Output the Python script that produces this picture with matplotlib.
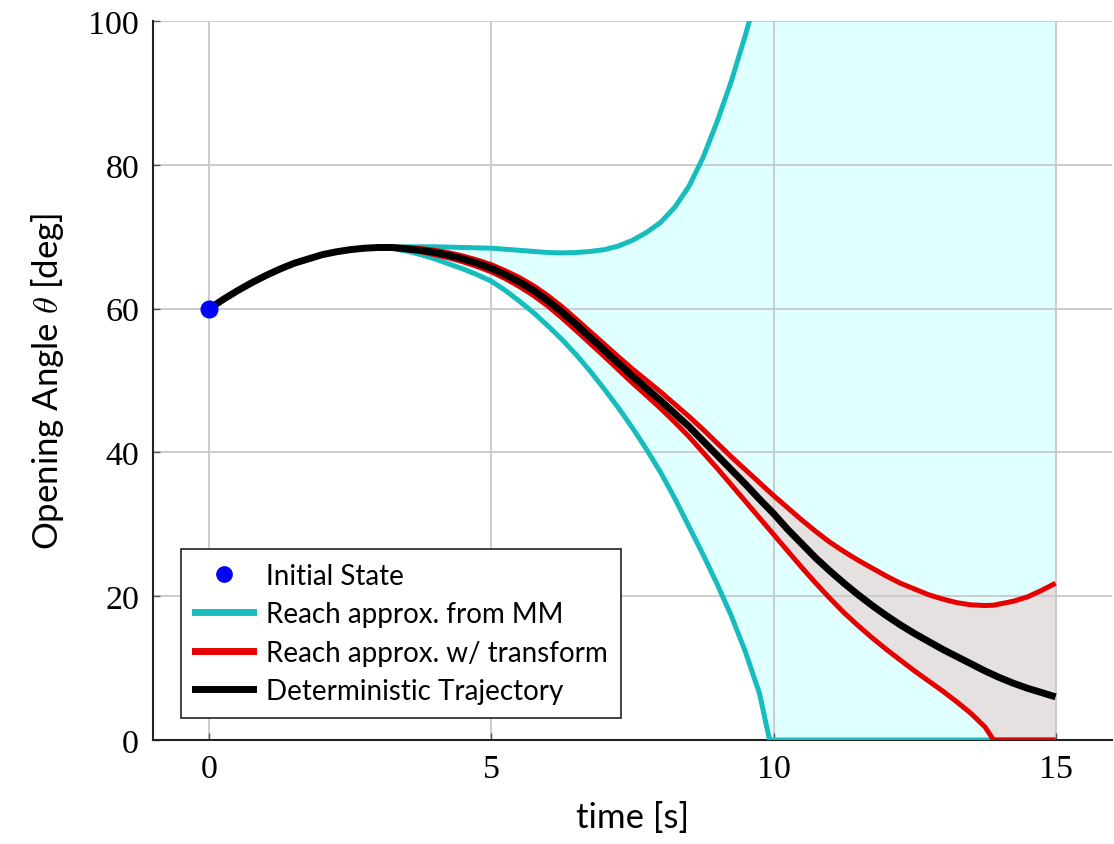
import matplotlib
matplotlib.use("Agg")
import matplotlib.pyplot as plt
from matplotlib.lines import Line2D

# ---------------- data ----------------
t_init = [0.0]
theta_init = [60.0]

# deterministic trajectory
t_det = [0, 0.25, 0.5, 0.75, 1, 1.25, 1.5, 1.75, 2, 2.25, 2.5, 2.75, 3, 3.25,
         3.5, 3.75, 4, 4.25, 4.5, 4.75, 5, 5.25, 5.5, 5.75, 6, 6.25, 6.5, 6.75,
         7, 7.25, 7.5, 7.75, 8, 8.25, 8.5, 8.75, 9, 9.25, 9.5, 9.75, 10, 10.25,
         10.5, 10.75, 11, 11.25, 11.5, 11.75, 12, 12.25, 12.5, 12.75, 13, 13.25,
         13.5, 13.75, 14, 14.25, 14.5, 14.75, 15]
theta_det = [60.0, 61.3, 62.5, 63.6, 64.6, 65.5, 66.3, 66.9, 67.5, 67.9, 68.2,
             68.4, 68.5, 68.5, 68.3, 68.1, 67.8, 67.4, 66.9, 66.3, 65.6, 64.7,
             63.7, 62.5, 61.1, 59.5, 57.8, 56.0, 54.2, 52.4, 50.6, 48.9, 47.2,
             45.4, 43.6, 41.6, 39.6, 37.6, 35.6, 33.5, 31.5, 29.3, 27.3, 25.3,
             23.5, 21.8, 20.2, 18.7, 17.3, 16.0, 14.8, 13.7, 12.6, 11.6, 10.6,
             9.6, 8.7, 7.9, 7.2, 6.6, 6.0]

# reachable-set approximation from moment matching (MM)
t_mm = [0, 0.25, 0.5, 0.75, 1, 1.25, 1.5, 1.75, 2, 2.25, 2.5, 2.75, 3, 3.25,
        3.5, 3.75, 4, 4.25, 4.5, 4.75, 5, 5.25, 5.5, 5.75, 6, 6.25, 6.5, 6.75,
        7, 7.25, 7.5, 7.75, 8, 8.25, 8.5, 8.75, 9, 9.25, 9.5, 9.75, 9.93, 10,
        11, 12, 13, 14, 15]
mm_upper = [60.0, 61.3, 62.5, 63.6, 64.6, 65.5, 66.3, 66.9, 67.5, 67.9, 68.2,
            68.4, 68.5, 68.55, 68.6, 68.6, 68.6, 68.55, 68.5, 68.45, 68.4,
            68.25, 68.1, 67.95, 67.8, 67.75, 67.8, 67.95, 68.2, 68.7, 69.5,
            70.6, 72.0, 74.1, 77.0, 81.0, 86.0, 91.6, 98.0, 105.0, 110.5,
            113.0, 140, 170, 200, 230, 260]
mm_lower = [60.0, 61.3, 62.5, 63.6, 64.6, 65.5, 66.3, 66.9, 67.5, 67.9, 68.2,
            68.4, 68.5, 68.35, 68.0, 67.5, 66.9, 66.2, 65.5, 64.7, 63.8, 62.5,
            61.0, 59.4, 57.6, 55.7, 53.6, 51.3, 48.8, 46.2, 43.4, 40.4, 37.2,
            33.6, 29.7, 25.8, 21.7, 17.3, 12.3, 6.5, 0.0, 0.0, 0, 0, 0, 0, 0]

# reachable-set approximation with transform
t_tr = [0, 0.25, 0.5, 0.75, 1, 1.25, 1.5, 1.75, 2, 2.25, 2.5, 2.75, 3, 3.25,
        3.5, 3.75, 4, 4.25, 4.5, 4.75, 5, 5.25, 5.5, 5.75, 6, 6.25, 6.5, 6.75,
        7, 7.25, 7.5, 7.75, 8, 8.25, 8.5, 8.75, 9, 9.25, 9.5, 9.75, 10, 10.25,
        10.5, 10.75, 11, 11.25, 11.5, 11.75, 12, 12.25, 12.5, 12.75, 13, 13.25,
        13.5, 13.75, 13.9, 14, 14.25, 14.5, 14.75, 15]
tr_upper = [60.0, 61.3, 62.5, 63.6, 64.6, 65.5, 66.3, 66.9, 67.5, 67.9, 68.2,
            68.4, 68.5, 68.55, 68.5, 68.35, 68.1, 67.75, 67.3, 66.75, 66.1,
            65.25, 64.3, 63.15, 61.8, 60.25, 58.55, 56.8, 55.05, 53.3, 51.6,
            50.0, 48.4, 46.7, 45.0, 43.2, 41.3, 39.4, 37.6, 35.8, 34.0, 32.3,
            30.6, 29.0, 27.5, 26.2, 25.0, 23.9, 22.8, 21.8, 21.0, 20.2, 19.6,
            19.1, 18.8, 18.7, 18.75, 18.9, 19.3, 19.9, 20.8, 21.8]
tr_lower = [60.0, 61.3, 62.5, 63.6, 64.6, 65.5, 66.3, 66.9, 67.5, 67.9, 68.2,
            68.4, 68.5, 68.45, 68.2, 67.9, 67.5, 67.05, 66.5, 65.85, 65.1,
            64.15, 63.05, 61.8, 60.35, 58.7, 56.95, 55.15, 53.35, 51.5, 49.65,
            47.9, 46.1, 44.2, 42.2, 40.0, 37.8, 35.5, 33.2, 30.9, 28.6, 26.3,
            24.0, 21.8, 19.7, 17.7, 15.9, 14.2, 12.6, 11.1, 9.6, 8.2, 6.8, 5.3,
            3.7, 1.8, 0.0, 0.0, 0.0, 0.0, 0.0, 0.0]

x_ticks = [0, 5, 10, 15]
y_ticks = [0, 20, 40, 60, 80, 100]
labels = ["Initial State", "Reach approx. from MM",
          "Reach approx. w/ transform", "Deterministic Trajectory"]

# ---------------- styling ----------------
CYAN = "#17bdbd"
RED = "#e60000"
BLACK = "#000000"
BLUE = "#0000ff"
CYAN_FILL = "#e0ffff"
GRAY_FILL = "#e6e1e1"

plt.rcParams["mathtext.fontset"] = "cm"

fig = plt.figure(figsize=(11.14, 8.45), dpi=100)
ax = fig.add_axes([153 / 1114, 1 - 741 / 845, (1112 - 153) / 1114, (741 - 22) / 845])

ax.fill_between(t_mm, mm_lower, mm_upper, color=CYAN_FILL, linewidth=0, zorder=1)
ax.fill_between(t_tr, tr_lower, tr_upper, color=GRAY_FILL, linewidth=0, zorder=1.1)

kw = dict(solid_capstyle="butt", solid_joinstyle="round")
ax.plot(t_mm, mm_upper, color=CYAN, lw=3.6, zorder=3, **kw)
ax.plot(t_mm, mm_lower, color=CYAN, lw=3.6, zorder=3, **kw)
ax.plot(t_tr, tr_upper, color=RED, lw=3.6, zorder=4, **kw)
ax.plot(t_tr, tr_lower, color=RED, lw=3.6, zorder=4, **kw)
ax.plot(t_det, theta_det, color=BLACK, lw=5.0, zorder=5, **kw)
ax.plot(t_init, theta_init, "o", color=BLUE, ms=12, zorder=6, clip_on=False)

ax.set_xlim(-1, 16)
ax.set_ylim(0, 100)
ax.set_xticks(x_ticks)
ax.set_yticks(y_ticks)

ax.set_axisbelow("line")
ax.grid(True, color="#c8c8c8", lw=1.3)

for s in ["top", "right"]:
    ax.spines[s].set_visible(False)
for s in ["left", "bottom"]:
    ax.spines[s].set_linewidth(1.5)
    ax.spines[s].set_color("#222222")

ax.tick_params(direction="in", length=5, width=1.0, color="#555555",
               labelsize=24.5, pad=10)
for lab in ax.get_xticklabels() + ax.get_yticklabels():
    lab.set_fontfamily("Liberation Serif")

ax.set_xlabel("time [s]", fontsize=25, family="Lato", labelpad=12)
ax.set_ylabel(r"Opening Angle $\theta$ [deg]", fontsize=25, family="Lato",
              labelpad=16)

handles = [
    Line2D([], [], marker="o", color=BLUE, ls="none", ms=11),
    Line2D([], [], color=CYAN, lw=5),
    Line2D([], [], color=RED, lw=5),
    Line2D([], [], color=BLACK, lw=5),
]
leg = ax.legend(handles, labels, loc="lower left",
                bbox_to_anchor=(28 / 959, 22 / 719),
                prop={"family": "Lato", "size": 20},
                frameon=True, fancybox=False, shadow=False,
                edgecolor="#222222", framealpha=1.0,
                handlelength=2.1, handletextpad=0.45, borderpad=0.5,
                labelspacing=0.45, borderaxespad=0)
leg.get_frame().set_linewidth(1.2)
leg.set_zorder(10)

fig.savefig("out.png", dpi=100)
